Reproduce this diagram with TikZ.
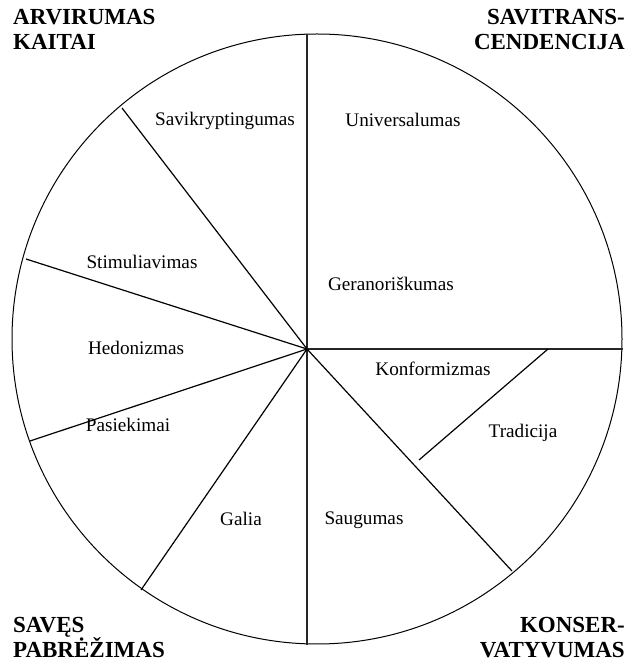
\documentclass[tikz,border=0pt]{standalone}
\usepackage{fontspec}
\setmainfont{Liberation Serif}[BoldFont={Liberation Serif Bold},ItalicFont={Liberation Serif Italic}]
\newfontfamily\ttlfont{Liberation Serif Bold}
\begin{document}
\begin{tikzpicture}[x=1pt,y=1pt,
  lbl/.style={inner sep=0pt,font=\fontsize{19.2}{22}\selectfont},
  ttl/.style={inner sep=0pt,font=\ttlfont\fontsize{23}{25}\selectfont},
  spoke/.style={line width=1.2pt},
  axis/.style={line width=1.7pt,black!85},
  rim/.style={line width=1pt}]
\useasboundingbox (0,0) rectangle (637,662);
% circle
\coordinate (cc) at (317,323);
\draw[rim] (cc) circle[radius=305];
% hub and rim points
\coordinate (hub) at (307,313);
\coordinate (top) at (307,628);
\coordinate (bot) at (307,17);
\coordinate (rgt) at (623,313);
\coordinate (ul) at (122,554);
\coordinate (l1) at (26,403);
\coordinate (l2) at (30,221);
\coordinate (ll) at (141,72);
\coordinate (lr) at (512,91);
\coordinate (ia) at (548,313);
\coordinate (ib) at (419,202);
% spokes
\draw[axis] (top) -- (bot);
\draw[axis] (hub) -- (rgt);
\draw[spoke] (hub) -- (ul);
\draw[spoke] (hub) -- (l1);
\draw[spoke] (hub) -- (l2);
\draw[spoke] (hub) -- (ll);
\draw[spoke] (hub) -- (lr);
\draw[spoke] (ia) -- (ib);
% labels
\node[lbl] (sav) at (225,541) {Savikryptingumas};
\node[lbl] (uni) at (403,542) {Universalumas};
\node[lbl] (ger) at (391,378) {Geranoriškumas};
\node[lbl] (sti) at (142,400) {Stimuliavimas};
\node[lbl] (hed) at (136,314) {Hedonizmas};
\node[lbl] (pas) at (128,237) {Pasiekimai};
\node[lbl] (gal) at (241,143) {Galia};
\node[lbl] (sau) at (364,142) {Saugumas};
\node[lbl] (kon) at (433,293) {Konformizmas};
\node[lbl] (tra) at (523,229) {Tradicija};
% titles
\node[ttl,anchor=north west,align=left] (t1) at (13,653) {ARVIRUMAS\\KAITAI};
\node[ttl,anchor=north east,align=right] (t2) at (625,653) {SAVITRANS-\\CENDENCIJA};
\node[ttl,anchor=north west,align=left] (t3) at (13,45) {SAVĘS\\PABRĖŽIMAS};
\node[ttl,anchor=north east,align=right] (t4) at (625,45) {KONSER-\\VATYVUMAS};
\end{tikzpicture}
\end{document}
